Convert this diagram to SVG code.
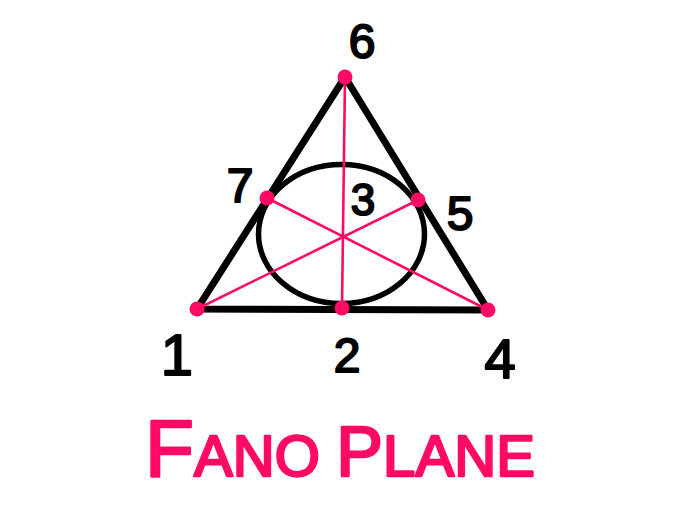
<svg xmlns="http://www.w3.org/2000/svg" width="700" height="514" viewBox="0 0 700 514">
<style>
.edge{stroke:#000;stroke-width:7;stroke-linecap:round;fill:none}
.circ{stroke:#000;stroke-width:5.5;fill:none}
.line{stroke:#ff0a64;stroke-width:2.6;stroke-linecap:round}
.dot{fill:#ff0a64}
.lbl{font-family:"Liberation Sans",Arial,sans-serif;font-size:48px;fill:#000;stroke:#000;stroke-width:2;stroke-linejoin:round;text-anchor:middle}
.title{font-family:"Liberation Sans",Arial,sans-serif;fill:#ff0a64;stroke:#ff0a64;stroke-width:2.5;stroke-linejoin:round}
</style>
<rect width="700" height="514" fill="#fff"/>
<g id="connectors">
<polygon class="edge" points="345,77 197,309 488,310"/>
<ellipse class="circ" cx="341.5" cy="234" rx="83" ry="69.5"/>
<line class="line" x1="345" y1="77" x2="342" y2="308"/>
<line class="line" x1="267" y1="198" x2="488" y2="310"/>
<line class="line" x1="418" y1="200" x2="197" y2="309"/>
</g>
<g id="node-6"><circle class="dot" cx="345" cy="77" r="7.5"/><text class="lbl" x="362" y="58">6</text></g>
<g id="node-7"><circle class="dot" cx="267" cy="198" r="7.5"/><text class="lbl" x="240" y="202">7</text></g>
<g id="node-5"><circle class="dot" cx="418" cy="200" r="7.5"/><text class="lbl" x="460" y="230">5</text></g>
<g id="node-3"><text class="lbl" x="363" y="215" style="font-size:44px">3</text></g>
<g id="node-1"><circle class="dot" cx="197" cy="309" r="7.5"/><text class="lbl" x="177" y="375" style="font-size:58px">1</text></g>
<g id="node-2"><circle class="dot" cx="342" cy="308" r="7.5"/><text class="lbl" x="347" y="372">2</text></g>
<g id="node-4"><circle class="dot" cx="488" cy="310" r="7.5"/><text class="lbl" x="500" y="378" style="font-size:56px">4</text></g>
<g id="title"><text class="title" x="145" y="476" textLength="390" lengthAdjust="spacing"><tspan style="font-size:80px">F</tspan><tspan style="font-size:58px">ANO </tspan><tspan style="font-size:70px">P</tspan><tspan style="font-size:58px">LANE</tspan></text></g>
</svg>
